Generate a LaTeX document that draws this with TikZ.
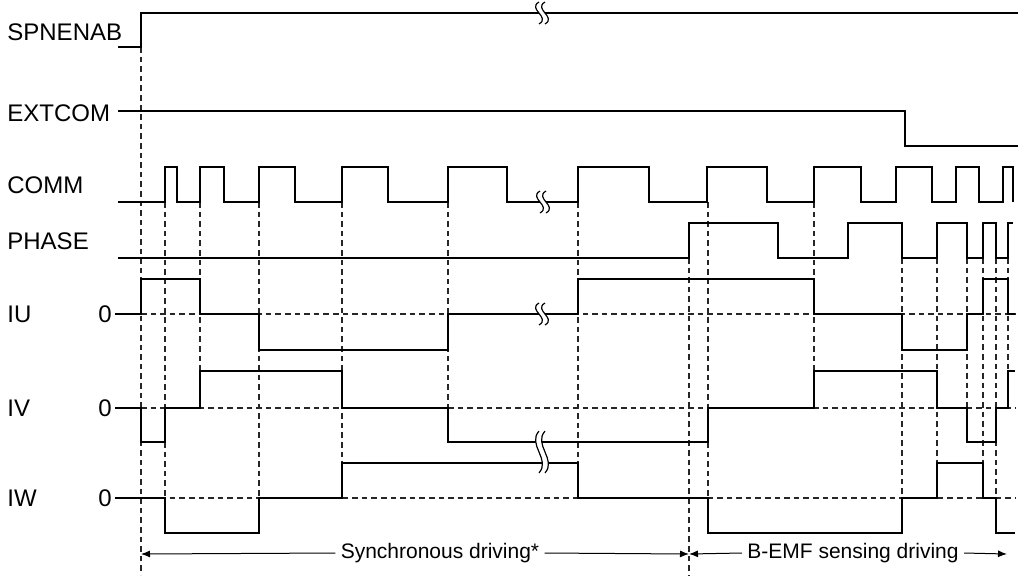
\documentclass[tikz,border=0pt]{standalone}
\usepackage{fontspec}
\setmainfont{Liberation Sans}
\usetikzlibrary{arrows.meta}
\tikzset{
  sig/.style={draw=black,line width=0.75pt},
  guide/.style={draw=black!85,line width=0.55pt,dash pattern=on 2.8pt off 2pt},
  lbl/.style={anchor=west,inner sep=0pt,font=\fontsize{12}{14}\selectfont},
  zlbl/.style={inner sep=0pt,font=\fontsize{12}{14}\selectfont},
  note/.style={inner sep=2.5pt,font=\fontsize{10.5}{12}\selectfont},
  dim/.style={-{Latex[length=4.5pt,width=3.5pt]},draw=black,line width=0.5pt},
  brk/.pic={
    \fill[white] (-3,-11) .. controls (-15,-4) and (9,4) .. (-3,11)
      -- (3,11) .. controls (15,4) and (-9,-4) .. (3,-11) -- cycle;
    \draw[line width=0.6pt] (-3,-11) .. controls (-15,-4) and (9,4) .. (-3,11);
    \draw[line width=0.6pt] (3,-11) .. controls (-9,-4) and (15,4) .. (3,11);
  },
}
\begin{document}
\begin{tikzpicture}[x=0.5pt,y=-0.5pt]
  \useasboundingbox (0,0) rectangle (1018,575);
  \node[lbl] (spn) at (7,32) {SPNENAB};
  \node[lbl] (ext) at (7,113) {EXTCOM};
  \node[lbl] (comm) at (7,185) {COMM};
  \node[lbl] (phase) at (7,241) {PHASE};
  \node[lbl] (iu) at (7,314) {IU};
  \node[lbl] (iv) at (7,408) {IV};
  \node[lbl] (iw) at (7,498) {IW};
  \node[zlbl] (zu) at (105,314) {0};
  \node[zlbl] (zv) at (105,408) {0};
  \node[zlbl] (zw) at (105,498) {0};
  % guides
  \draw[guide] (141,47) -- (141,575) (165,202) -- (165,533) (200,202) -- (200,408)
    (259,202) -- (259,533) (342,202) -- (342,498) (448,202) -- (448,442)
    (578,202) -- (578,498) (689,258) -- (689,575) (708,202) -- (708,533)
    (814,202) -- (814,408) (902,258) -- (902,533) (937,258) -- (937,498)
    (967,258) -- (967,442) (983,258) -- (983,498) (996,258) -- (996,533)
    (1008,258) -- (1008,408);
  \draw[guide] (141,314) -- (1015,314) (141,408) -- (1015,408) (141,498) -- (1015,498);
  % signals
  \draw[sig] (118,47) -| (141,13) -- (1018,13);
  \draw[sig] (118,111) -| (905,146) -- (1018,146);
  \draw[sig] (118,202) -| (165,167) -| (177,202) -| (200,167) -| (224,202) -| (259,167)
    -| (295,202) -| (342,167) -| (388,202) -| (448,167) -| (507,202) -| (578,167)
    -| (649,202) -| (707,167) -| (767,202) -| (814,167) -| (861,202) -| (896,167)
    -| (932,202) -| (956,167) -| (979,202) -| (1003,167) -| (1013,202);
  \draw[sig] (118,258) -| (689,223) -| (778,258) -| (848,223) -| (902,258) -| (937,223)
    -| (967,258) -| (983,223) -| (996,258) -| (1008,223) -- (1013,223);
  \draw[sig] (zu.east) ++(3,0) -| (141,279) -| (200,314) -| (259,350) -| (448,314)
    -| (578,279) -| (814,314) -| (902,350) -| (967,314) -| (983,279) -| (1008,314) -- (1015,314);
  \draw[sig] (zv.east) ++(3,0) -| (141,442) -| (165,408) -| (200,371) -| (342,408)
    -| (448,442) -| (708,408) -| (814,371) -| (937,408) -| (967,442) -| (996,408)
    -| (1008,371) -- (1015,371);
  \draw[sig] (zw.east) ++(3,0) -| (165,533) -| (259,498) -| (342,463) -| (578,498)
    -| (708,533) -| (902,498) -| (937,463) -| (983,498) -| (996,533) -- (1015,533);
  % breaks
  \pic at (542,13) {brk};
  \pic at (543,202) {brk};
  \pic at (542,314) {brk};
  \pic[yscale=1.9] at (542,452) {brk};
  % driving ranges
  \coordinate (s0) at (141,554);
  \coordinate (s1) at (689,554);
  \coordinate (s2) at (1007,554);
  \node[note] (sync) at (440,553) {Synchronous driving*};
  \node[note] (bemf) at (853,553) {B-EMF sensing driving};
  \draw[dim] (sync.west) -- (s0);
  \draw[dim] (sync.east) -- (s1);
  \draw[dim] (bemf.west) -- (s1);
  \draw[dim] (bemf.east) -- (s2);
\end{tikzpicture}
\end{document}
